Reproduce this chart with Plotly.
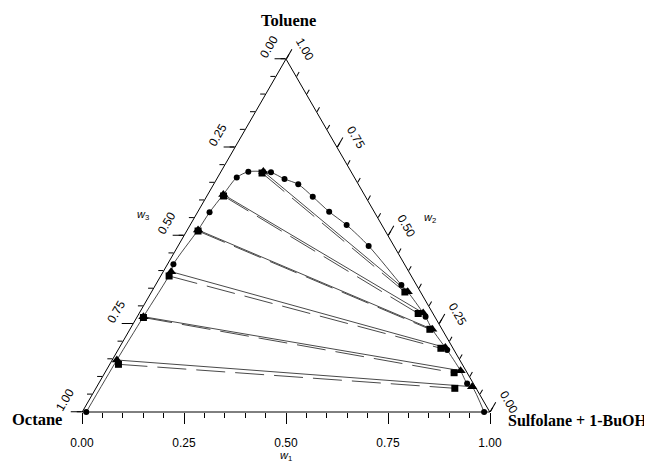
import numpy as np
import plotly.graph_objects as go

# ---- data (mass fractions) ----
# w1 = Sulfolane + 1-BuOH, w2 = Toluene, w3 = Octane (= 1 - w1 - w2)
bin_w1 = [0.010, 0.0146, 0.0296, 0.0470, 0.0672, 0.1237, 0.1663, 0.2076, 0.2607,
          0.3222, 0.3839, 0.4676, 0.6032, 0.7074, 0.8075, 0.9040, 0.986]
bin_w2 = [0.000, 0.4184, 0.5657, 0.6643, 0.6807, 0.6790, 0.6601, 0.6450, 0.6099,
          0.5674, 0.5297, 0.4703, 0.3598, 0.2700, 0.1756, 0.0807, 0.000]

# experimental tie lines (raffinate / extract ends)
exp_raf_w1 = [0.1037, 0.0382, 0.0265, 0.0194, 0.0152, 0.0114]
exp_raf_w2 = [0.6813, 0.6161, 0.5156, 0.3975, 0.2700, 0.1473]
exp_ext_w1 = [0.6281, 0.6963, 0.7415, 0.7995, 0.8697, 0.9208]
exp_ext_w2 = [0.3408, 0.2805, 0.2343, 0.1827, 0.1170, 0.0717]

# calculated tie lines
calc_raf_w1 = [0.1027, 0.0408, 0.0279, 0.0206, 0.0164, 0.0214]
calc_raf_w2 = [0.6770, 0.6119, 0.5127, 0.3853, 0.2677, 0.1351]
calc_ext_w1 = [0.6217, 0.6848, 0.7358, 0.7897, 0.8568, 0.8806]
calc_ext_w2 = [0.3400, 0.2790, 0.2343, 0.1805, 0.1113, 0.0671]

major_ticks = [0.0, 0.25, 0.5, 0.75, 1.0]

vertex_top = "Toluene"
vertex_left = "Octane"
vertex_right = "Sulfolane + 1-BuOH"

# ---- geometry of the page ----
FIG_W, FIG_H = 644, 455          # page body has an 8px default margin
ML, MR, MT = 74, 162, 51
AREA_W = FIG_W - ML - MR         # 408
AREA_H = AREA_W * np.sqrt(3) / 2 # equilateral triangle fills the area exactly
MB = FIG_H - MT - AREA_H

def abc(w1, w2):
    w1 = np.asarray(w1, float)
    w2 = np.asarray(w2, float)
    return w2, 1.0 - w1 - w2, w1   # a = toluene (top), b = octane (left), c = sulfolane (right)

# binodal curve through all experimental binodal points and tie-line ends,
# ordered along the curve (angle seen from a point below the base)
cw1 = np.array(bin_w1 + exp_raf_w1 + exp_ext_w1)
cw2 = np.array(bin_w2 + exp_raf_w2 + exp_ext_w2)
cx = cw1 + cw2 / 2
cy = cw2 * np.sqrt(3) / 2
order = np.argsort(np.arctan2(cy + 0.1, 0.6 - cx))
cw1, cw2 = cw1[order], cw2[order]

fig = go.Figure()

# cartesian axis used for the bottom (w1) scale
fig.add_trace(go.Scatter(x=[0.5], y=[0.5], mode="markers",
                         marker=dict(size=1, color="rgba(0,0,0,0)"), hoverinfo="skip"))

LC = "#1a1a1a"
LINE = dict(color=LC, width=0.8)
a, b, c = abc(cw1, cw2)
fig.add_trace(go.Scatterternary(a=a, b=b, c=c, mode="lines",
                                line=dict(color=LC, width=0.8, shape="spline", smoothing=0.8),
                                cliponaxis=False, hoverinfo="skip"))

for i in range(len(exp_raf_w1)):
    a, b, c = abc([exp_raf_w1[i], exp_ext_w1[i]], [exp_raf_w2[i], exp_ext_w2[i]])
    fig.add_trace(go.Scatterternary(a=a, b=b, c=c, mode="lines", line=LINE,
                                    cliponaxis=False, hoverinfo="skip"))
    a, b, c = abc([calc_raf_w1[i], calc_ext_w1[i]], [calc_raf_w2[i], calc_ext_w2[i]])
    fig.add_trace(go.Scatterternary(a=a, b=b, c=c, mode="lines",
                                    line=dict(color=LC, width=0.8, dash="29px,10px"),
                                    cliponaxis=False, hoverinfo="skip"))

a, b, c = abc(calc_raf_w1 + calc_ext_w1, calc_raf_w2 + calc_ext_w2)
fig.add_trace(go.Scatterternary(a=a, b=b, c=c, mode="markers",
                                marker=dict(symbol="square", size=7, color="black"),
                                cliponaxis=False))
a, b, c = abc(exp_raf_w1 + exp_ext_w1, exp_raf_w2 + exp_ext_w2)
fig.add_trace(go.Scatterternary(a=a, b=b, c=c, mode="markers",
                                marker=dict(symbol="triangle-up", size=9, color="black"),
                                cliponaxis=False))
a, b, c = abc(bin_w1, bin_w2)
fig.add_trace(go.Scatterternary(a=a, b=b, c=c, mode="markers",
                                marker=dict(symbol="circle", size=6, color="black"),
                                cliponaxis=False))

# invisible anchor for the major-tick ternary
fig.add_trace(go.Scatterternary(a=[0.3], b=[0.3], c=[0.4], mode="markers",
                                marker=dict(size=1, color="rgba(0,0,0,0)"),
                                subplot="ternary2", hoverinfo="skip"))

def side_axis(dtick, ticklen, line):
    return dict(showline=line, linecolor="black", linewidth=1, showgrid=False, min=0,
                ticks="outside", ticklen=ticklen, tickwidth=1, tickcolor="black",
                tickmode="linear", tick0=0, dtick=dtick,
                showticklabels=False, title=dict(text=""))

def base_axis(line):
    return dict(showline=line, linecolor="black", linewidth=1, showgrid=False, min=0,
                ticks="", showticklabels=False, title=dict(text=""))

TICKFONT = dict(family="Arial, Liberation Sans, sans-serif", size=12, color="black")
dom = dict(x=[0, 1], y=[0, 1])
fig.update_layout(
    width=FIG_W, height=FIG_H,
    margin=dict(l=ML, r=MR, t=MT, b=MB, pad=0),
    paper_bgcolor="white", plot_bgcolor="white",
    showlegend=False,
    xaxis=dict(range=[0, 1], showline=False, showgrid=False, zeroline=False,
               ticks="outside", ticklen=11, tickwidth=1, tickcolor="black",
               tickmode="linear", tick0=0, dtick=0.25, tickformat=".2f",
               minor=dict(ticks="outside", ticklen=5, tickwidth=1, tickcolor="black",
                          dtick=0.05, tick0=0, showgrid=False),
               tickfont=TICKFONT, ticklabelstandoff=9, fixedrange=True),
    yaxis=dict(range=[0, 1], visible=False, fixedrange=True),
    ternary=dict(sum=1, domain=dom, bgcolor="white",
                 aaxis=side_axis(0.05, 5, True), baxis=base_axis(True),
                 caxis=side_axis(0.05, 5, True)),
    ternary2=dict(sum=1, domain=dom, bgcolor="rgba(0,0,0,0)",
                  aaxis=side_axis(0.25, 11, False), baxis=base_axis(False),
                  caxis=side_axis(0.25, 11, False)),
)

# side tick labels (rotated along the edges), placed at the tick positions
PERP = 21.0
c30, s30 = np.cos(np.pi / 6), np.sin(np.pi / 6)
for v in major_ticks:
    # left edge (w3 scale): point with a = v, c = 0 -> paper (v/2, v); label = w3 = 1 - v
    fig.add_annotation(text="%.2f" % (1 - v), x=v / 2, y=v, xref="paper", yref="paper",
                       showarrow=False, font=TICKFONT, textangle=-60,
                       xanchor="center", yanchor="middle",
                       xshift=-c30 * PERP + 0.5 * 2.0, yshift=s30 * PERP + c30 * 2.0)
    # right edge (w2 scale): point with c = v, b = 0 -> paper ((1+v)/2, 1-v); label = w2 = 1 - v
    fig.add_annotation(text="%.2f" % (1 - v), x=(1 + v) / 2, y=1 - v, xref="paper", yref="paper",
                       showarrow=False, font=TICKFONT, textangle=60,
                       xanchor="center", yanchor="middle",
                       xshift=c30 * PERP + 0.5 * 0.7, yshift=s30 * PERP - c30 * 0.7)

TITLEFONT = dict(family="Times New Roman, Liberation Serif, serif", size=16.5, color="black")
TITLEFONT_R = dict(family="Times New Roman, Liberation Serif, serif", size=16, color="black")
WFONT = dict(family="Arial, Liberation Sans, sans-serif", size=11, color="black")
fig.add_annotation(text="<b>%s</b>" % vertex_top, x=0.507, y=1.110, xref="paper", yref="paper",
                   showarrow=False, font=TITLEFONT, xanchor="center", yanchor="middle")
fig.add_annotation(text="<b>%s</b>" % vertex_left, x=-0.110, y=-0.022, xref="paper", yref="paper",
                   showarrow=False, font=TITLEFONT, xanchor="center", yanchor="middle")
fig.add_annotation(text="<b>%s</b>" % vertex_right, x=(641 - ML) / AREA_W, y=-0.025,
                   xref="paper", yref="paper",
                   showarrow=False, font=TITLEFONT_R, xanchor="right", yanchor="middle")
fig.add_annotation(text="<i>w</i><sub>1</sub>", x=0.5, y=-0.1236, xref="paper", yref="paper",
                   showarrow=False, font=WFONT, xanchor="center", yanchor="middle")
fig.add_annotation(text="<i>w</i><sub>2</sub>", x=0.853, y=0.550, xref="paper", yref="paper",
                   showarrow=False, font=WFONT, xanchor="center", yanchor="middle")
fig.add_annotation(text="<i>w</i><sub>3</sub>", x=0.1495, y=0.5585, xref="paper", yref="paper",
                   showarrow=False, font=WFONT, xanchor="center", yanchor="middle")

fig.write_html("out.html")
